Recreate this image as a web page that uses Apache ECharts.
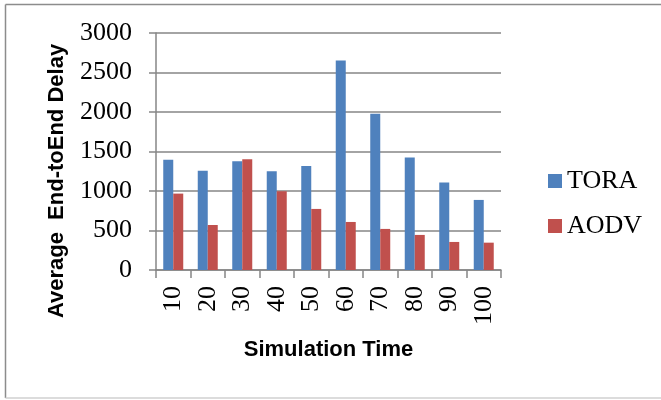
<!DOCTYPE html>
<html>
<head>
<meta charset="utf-8">
<script src="https://cdn.jsdelivr.net/npm/echarts@6/dist/echarts.min.js"></script>
<style>html,body{margin:0;padding:0;background:#fff}#c{width:661px;height:400px}</style>
</head>
<body>
<div id="c"></div>
<script>
var categories = ['10','20','30','40','50','60','70','80','90','100'];
var tora = [1395, 1255, 1377, 1251, 1318, 2653, 1977, 1424, 1107, 887];
var aodv = [967, 570, 1403, 997, 773, 608, 520, 444, 355, 346];
var yTicks = [0, 500, 1000, 1500, 2000, 2500, 3000];
var seriesNames = ['TORA', 'AODV'];

var chart = echarts.init(document.getElementById('c'), null, {renderer: 'canvas'});
var serif = '"Liberation Serif", "Times New Roman", serif';
var sans = '"Liberation Sans", Arial, sans-serif';
chart.setOption({
  animation: false,
  backgroundColor: '#fff',
  grid: {left: 156, right: 160, top: 33, bottom: 130, containLabel: false},
  legend: {
    orient: 'vertical', left: 543, top: 163,
    itemWidth: 14, itemHeight: 14, itemGap: 19,
    icon: 'rect',
    textStyle: {fontFamily: serif, fontSize: 26, color: '#000'},
    data: seriesNames
  },
  xAxis: {
    type: 'category', data: categories,
    name: 'Simulation Time', nameLocation: 'middle', nameGap: 69,
    nameTextStyle: {fontFamily: sans, fontWeight: 'bold', fontSize: 22, color: '#000'},
    axisLine: {lineStyle: {color: '#868686', width: 1.5}},
    axisTick: {show: true, length: 8, lineStyle: {color: '#868686', width: 1.5}},
    axisLabel: {rotate: 90, margin: 16, fontFamily: serif, fontSize: 26, color: '#000'}
  },
  yAxis: {
    type: 'value', min: yTicks[0], max: yTicks[yTicks.length - 1], interval: 500,
    axisLine: {show: true, lineStyle: {color: '#868686', width: 1.5}},
    axisTick: {show: true, length: 7, lineStyle: {color: '#868686', width: 1.5}},
    splitLine: {lineStyle: {color: '#868686', width: 1.5}},
    axisLabel: {margin: 24, fontFamily: serif, fontSize: 26, color: '#000',
                formatter: function (v) { return String(v); }}
  },
  graphic: [
    {type: 'text', x: 57, y: 181, rotation: Math.PI / 2,
     style: {text: 'Average  End-toEnd Delay', fontFamily: sans, fontWeight: 'bold', fontSize: 22,
             fill: '#000', align: 'center', verticalAlign: 'middle'}},
    {type: 'line', shape: {x1: 5.5, y1: 4.5, x2: 661, y2: 4.5}, style: {stroke: '#8c8c8c', lineWidth: 1.5}},
    {type: 'line', shape: {x1: 5.5, y1: 4.5, x2: 5.5, y2: 398}, style: {stroke: '#8c8c8c', lineWidth: 1.5}},
    {type: 'line', shape: {x1: 5.5, y1: 398, x2: 661, y2: 398}, style: {stroke: '#d0d0d0', lineWidth: 1.5}}
  ],
  series: [
    {name: seriesNames[0], type: 'bar', data: tora, barWidth: 10, barGap: '0%',
     itemStyle: {color: '#4F81BD'}},
    {name: seriesNames[1], type: 'bar', data: aodv, barWidth: 10, barGap: '0%',
     itemStyle: {color: '#C0504D'}}
  ]
});
</script>
</body>
</html>
